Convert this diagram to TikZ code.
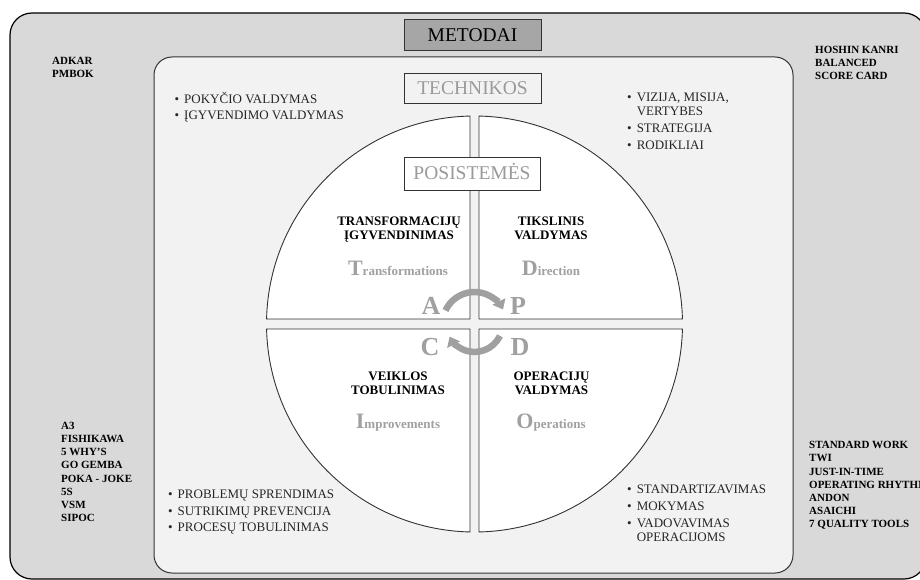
\documentclass[tikz,border=0pt]{standalone}
\usepackage{fontspec}
\setmainfont{Liberation Serif}
\usetikzlibrary{arrows.meta}
\definecolor{outerfill}{HTML}{D9D9D9}
\definecolor{innerfill}{HTML}{F2F2F2}
\definecolor{metfill}{HTML}{A6A6A6}
\definecolor{graytxt}{HTML}{A0A0A0}
\definecolor{headgray}{HTML}{9A9A9A}
\definecolor{edgegray}{HTML}{333333}
\begin{document}
\begin{tikzpicture}[x=1pt,y=-1pt,
  outerlist/.style={anchor=base west, inner sep=0pt, font=\bfseries\fontsize{11}{13.2}\selectfont},
  blist/.style={anchor=base west, inner sep=0pt, text=black!85, font=\fontsize{13}{14}\selectfont},
  qtitle/.style={anchor=base, inner sep=0pt, font=\bfseries\fontsize{13}{14}\selectfont},
  qname/.style={anchor=base, inner sep=0pt, text=graytxt, font=\bfseries\fontsize{13}{13}\selectfont},
  pdcaletter/.style={inner sep=0pt, text=graytxt, font=\bfseries\fontsize{26}{26}\selectfont},
  headbox/.style={draw=edgegray, line width=0.9pt, minimum width=137pt, minimum height=31pt, inner sep=0pt, text height=12.9pt, text depth=0pt, font=\fontsize{19.5}{20}\selectfont},
  quad/.style={fill=white, draw=edgegray, line width=0.9pt},
  pdcaarrow/.style={draw=graytxt, line width=6.5pt, -{Triangle[length=9pt,width=14pt]}}
]
\useasboundingbox (0,0) rectangle (920,580);
% outer and inner panels
\draw[fill=outerfill, line width=1.2pt, rounded corners=22pt] (10,13) rectangle (926,579);
\draw[fill=innerfill, draw=edgegray, line width=1pt, rounded corners=18pt] (154,57) rectangle (793,573);

% header boxes
\node[headbox, fill=metfill, text=black] (metodai) at (472.5,35) {METODAI};
\node[headbox, fill=innerfill, text=headgray, minimum height=30pt] (technikos) at (472.5,88) {TECHNIKOS};

% quadrants
\draw[quad] (470,319) -- (470,116.05) arc[start angle=-91.24, end angle=-178.62, radius=208] -- cycle;
\draw[quad] (479,319) -- (479,116.05) arc[start angle=-88.76, end angle=-1.38, radius=208] -- cycle;
\draw[quad] (479,329) -- (479,531.95) arc[start angle=88.76, end angle=1.38, radius=208] -- cycle;
\draw[quad] (470,329) -- (470,531.95) arc[start angle=91.24, end angle=178.62, radius=208] -- cycle;

\node[headbox, fill=white, text=headgray, minimum height=33pt, minimum width=136pt] (posistemes) at (472,173.5) {POSISTEMĖS};

% PDCA cycle
\coordinate (ua) at (445.5,310.5);
\coordinate (lb) at (499.9,335.8);
\draw[pdcaarrow] (ua) arc[start angle=-155, end angle=-27, radius=32];
\draw[pdcaarrow] (lb) arc[start angle=25, end angle=153, radius=28];
\node[pdcaletter] (la) at (431,305.5) {A};
\node[pdcaletter] (lp) at (518,305.5) {P};
\node[pdcaletter] (lc) at (430,347) {C};
\node[pdcaletter] (ld) at (520,347) {D};

% quadrant titles
\node[qtitle] (t1) at (399,225.8) {\begin{tabular}[t]{@{}c@{}}TRANSFORMACIJŲ\\ĮGYVENDINIMAS\end{tabular}};
\node[qtitle] (t2) at (551,225.8) {\begin{tabular}[t]{@{}c@{}}TIKSLINIS\\VALDYMAS\end{tabular}};
\node[qtitle] (t3) at (398,380.3) {\begin{tabular}[t]{@{}c@{}}VEIKLOS\\TOBULINIMAS\end{tabular}};
\node[qtitle] (t4) at (551.5,380.3) {\begin{tabular}[t]{@{}c@{}}OPERACIJŲ\\VALDYMAS\end{tabular}};

\node[qname] (n1) at (398,275) {{\fontsize{22}{22}\selectfont T}ransformations};
\node[qname] (n2) at (551,275) {{\fontsize{22}{22}\selectfont D}irection};
\node[qname] (n3) at (398,428) {{\fontsize{22}{22}\selectfont I}mprovements};
\node[qname] (n4) at (551,428) {{\fontsize{22}{22}\selectfont O}perations};

% bullet lists
\node[blist] (bl1) at (174.5,103.5) {\begin{tabular}[t]{@{}l@{\hspace{5pt}}l@{}}\textbullet & POKYČIO VALDYMAS\\[2.5pt]
\textbullet & ĮGYVENDIMO VALDYMAS\end{tabular}};
\node[blist] (bl2) at (627,101.5) {\begin{tabular}[t]{@{}l@{\hspace{5pt}}l@{}}\textbullet & VIZIJA, MISIJA,\\
 & VERTYBES\\[3pt]
\textbullet & STRATEGIJA\\[3pt]
\textbullet & RODIKLIAI\end{tabular}};
\node[blist] (bl3) at (168,498.5) {\begin{tabular}[t]{@{}l@{\hspace{5pt}}l@{}}\textbullet & PROBLEMŲ SPRENDIMAS\\[2.5pt]
\textbullet & SUTRIKIMŲ PREVENCIJA\\[2.5pt]
\textbullet & PROCESŲ TOBULINIMAS\end{tabular}};
\node[blist] (bl4) at (627,493.5) {\begin{tabular}[t]{@{}l@{\hspace{5pt}}l@{}}\textbullet & STANDARTIZAVIMAS\\[3pt]
\textbullet & MOKYMAS\\[3pt]
\textbullet & VADOVAVIMAS\\
 & OPERACIJOMS\end{tabular}};

% outer method lists
\node[outerlist] (m1) at (52,64.3) {\begin{tabular}[t]{@{}l@{}}ADKAR\\PMBOK\end{tabular}};
\node[outerlist] (m2) at (61,429.3) {\begin{tabular}[t]{@{}l@{}}A3\\FISHIKAWA\\5 WHY'S\\GO GEMBA\\POKA - JOKE\\5S\\VSM\\SIPOC\end{tabular}};
\node[outerlist] (m3) at (815,53.6) {\begin{tabular}[t]{@{}l@{}}HOSHIN KANRI\\BALANCED\\SCORE CARD\end{tabular}};
\node[outerlist] (m4) at (809,448.6) {\begin{tabular}[t]{@{}l@{}}STANDARD WORK\\TWI\\JUST-IN-TIME\\OPERATING RHYTHM\\ANDON\\ASAICHI\\7 QUALITY TOOLS\end{tabular}};
\end{tikzpicture}
\end{document}
